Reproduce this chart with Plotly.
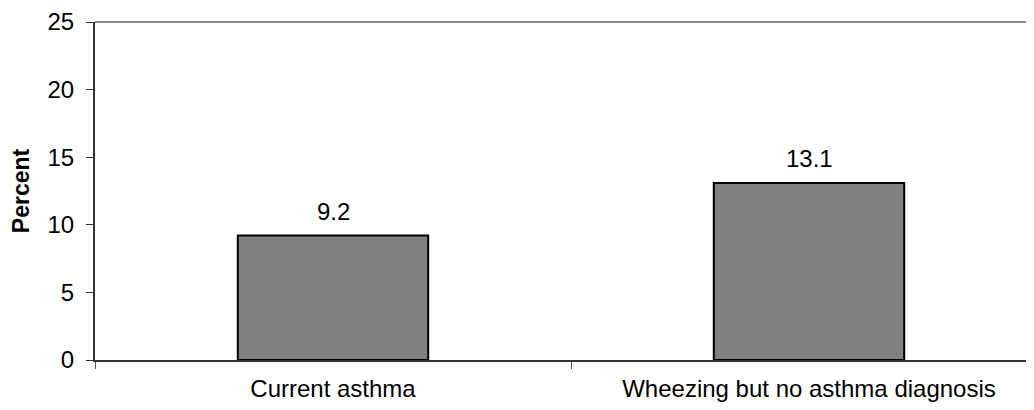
import plotly.graph_objects as go

categories = ["Current asthma", "Wheezing but no asthma diagnosis"]
values = [9.2, 13.1]
value_labels = ["9.2", "13.1"]
y_ticks = [0, 5, 10, 15, 20, 25]

font = "Liberation Sans, Arial, sans-serif"
FS = 24

fig = go.Figure()
fig.add_trace(go.Bar(
    x=categories, y=values, width=0.4,
    marker=dict(color="#808080", line=dict(color="#000000", width=2)),
    hoverinfo="skip",
))

for c, v, t in zip(categories, values, value_labels):
    fig.add_annotation(x=c, y=v, text=t, showarrow=False, yanchor="bottom",
                       yshift=9, font=dict(family=font, size=FS, color="#000"))

fig.add_shape(type="line", xref="paper", yref="paper", x0=0, x1=1, y0=1, y1=1,
              line=dict(color="#8c8c8c", width=2))

fig.update_layout(
    width=1026, height=394,
    margin=dict(l=87, r=0, t=11, b=41, pad=0),
    paper_bgcolor="white", plot_bgcolor="white",
    showlegend=False,
    font=dict(family=font, size=FS, color="#000"),
    xaxis=dict(
        range=[-0.5, 1.4727], type="category",
        showline=True, linecolor="#333", linewidth=1.5,
        ticks="outside", tickson="boundaries", ticklen=7, tickcolor="#555", tickwidth=1,
        showgrid=False, tickfont=dict(size=FS), ticklabelstandoff=6,
    ),
    yaxis=dict(
        range=[0, 25], tickvals=y_ticks, showgrid=False, zeroline=False,
        showline=True, linecolor="#333", linewidth=2,
        ticks="outside", ticklen=7, tickcolor="#333", tickwidth=1,
        tickfont=dict(size=FS), ticklabelstandoff=7, ticklabeloverflow="allow",
        title=dict(text="<b>Percent</b>", font=dict(size=FS - 1), standoff=12),
    ),
)

fig.write_html("out.html")
